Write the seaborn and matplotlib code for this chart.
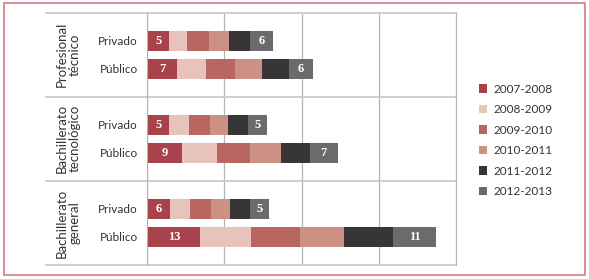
import pandas as pd
import matplotlib.pyplot as plt
import seaborn as sns
from matplotlib.patches import Patch, Rectangle

# values (one row per school type)
groups = ["Profesional\ntécnico", "Bachillerato\ntecnológico", "Bachillerato\ngeneral"]
sectors = ["Privado", "Público"]
years = ["2007-2008", "2008-2009", "2009-2010", "2010-2011", "2011-2012", "2012-2013"]
colors = ["#a8434b", "#e8c3bc", "#b8665f", "#cd9085", "#373536", "#6b6b6d"]

prof_privado = [5.3, 4.4, 5.4, 5.0, 5.2, 5.7]
prof_publico = [7.2, 7.2, 7.3, 6.6, 6.5, 6.1]
tec_privado = [5.4, 4.8, 5.1, 4.5, 4.9, 4.7]
tec_publico = [8.6, 8.6, 8.1, 7.7, 7.0, 7.0]
gen_privado = [5.5, 5.1, 5.0, 4.7, 5.0, 4.6]
gen_publico = [13.0, 12.5, 12.1, 10.9, 12.0, 10.8]

rows = [
    ("g0_priv", prof_privado), ("g0_pub", prof_publico),
    ("g1_priv", tec_privado), ("g1_pub", tec_publico),
    ("g2_priv", gen_privado), ("g2_pub", gen_publico),
]
order = ["g0_priv", "g0_pub", "sep0", "g1_priv", "g1_pub", "sep1", "g2_priv", "g2_pub"]

# long table with cumulative widths for stacking
records = []
for key, vals in rows:
    total = 0
    for yr, v in zip(years, vals):
        total += v
        records.append({"row": key, "year": yr, "cum": total})
df = pd.DataFrame(records)

plt.rcParams["font.family"] = ["Lato", "DejaVu Sans"]
fig = plt.figure(figsize=(5.89, 2.79), dpi=100, facecolor="white")
ax = fig.add_axes([0.2504, 0.0502, 0.5230, 0.9043])

sns.barplot(data=df, x="cum", y="row", hue="year", order=order,
            hue_order=years[::-1], palette=dict(zip(years, colors)),
            dodge=False, width=0.71, orient="h", ax=ax, legend=False,
            saturation=1, linewidth=0)

ax.set_xlim(0, 76)
ax.set_ylim(8, -1)
ax.set_xticks([0, 19, 38, 57, 76])
ax.set_xticklabels([])
ax.tick_params(axis="x", length=0)
ax.grid(axis="x", color="#b3b3b3", linewidth=0.9)
ax.set_axisbelow(True)
ax.set_xlabel("")
ax.set_ylabel("")

ax.set_yticks([0, 1, 3, 4, 6, 7])
ax.set_yticklabels(sectors * 3, fontsize=8.5, color="#333333")
ax.tick_params(axis="y", length=0, pad=7)

for s in ["top", "bottom"]:
    ax.spines[s].set_visible(False)
ax.spines["left"].set_color("#b3b3b3")
ax.spines["right"].set_color("#b3b3b3")

# horizontal frame lines reaching the group labels
for yy in [-1, 2, 5, 8]:
    ax.plot([-0.33, 1], [yy, yy], transform=ax.get_yaxis_transform(),
            color="#cccccc", linewidth=1.3, clip_on=False)

# group labels
for i, g in enumerate(groups):
    ax.text(-0.258, 3 * i + 0.5, g, transform=ax.get_yaxis_transform(),
            rotation=90, ha="center", va="center", multialignment="center",
            fontsize=9.5, color="#333333", linespacing=1.05)

# value labels on first and last segment
pos = {"g0_priv": 0, "g0_pub": 1, "g1_priv": 3, "g1_pub": 4, "g2_priv": 6, "g2_pub": 7}
for key, vals in rows:
    y = pos[key]
    ax.text(vals[0] / 2, y, f"{round(vals[0])}", ha="center", va="center",
            color="white", fontsize=9, fontweight="bold", family="Liberation Serif")
    ax.text(sum(vals) - vals[-1] / 2, y, f"{round(vals[-1])}", ha="center", va="center",
            color="white", fontsize=9, fontweight="bold", family="Liberation Serif")

handles = [Patch(facecolor=c, edgecolor="none") for c in colors]
fig.legend(handles, years, loc="center left", bbox_to_anchor=(0.795, 0.497),
           frameon=False, fontsize=8.5, handlelength=0.7, handleheight=0.7,
           handletextpad=0.5, labelspacing=0.8, labelcolor="#333333")

# outer red frame
fig.patches.append(Rectangle((3.5 / 589, 4.5 / 279), 581.5 / 589, 271.5 / 279,
                             transform=fig.transFigure, fill=False,
                             edgecolor="#d8858d", linewidth=1.3))

plt.savefig("out.png", dpi=100)
